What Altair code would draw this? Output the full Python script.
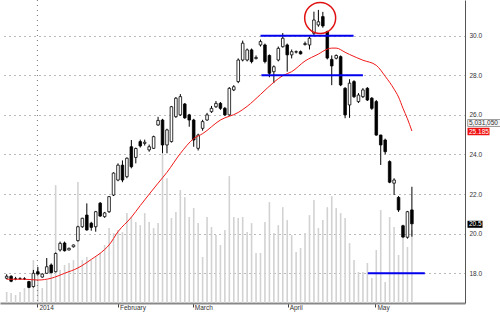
import altair as alt
import pandas as pd

# ---- candle data (index = trading day position) ----
opens = [17.75, 17.85, 17.72, 17.73, 17.72, 17.58, 17.33, 18.08, 17.81, 18.0,
         18.42, 18.08, 19.18, 19.53, 19.18, 19.34, 19.65, 20.35, 20.94, 20.53,
         20.35, 21.54, 20.86, 21.11, 21.95, 22.71, 23.46, 22.88, 24.39, 23.85,
         24.65, 24.56, 24.23, 24.31, 25.49, 25.74, 24.48, 24.65, 25.91, 26.0,
         26.55, 26.0, 25.74, 24.31, 25.32, 25.74, 26.16, 26.41, 26.58, 26.33,
         26.0, 27.26, 27.68, 28.77, 28.77, 29.28, 28.84, 29.53, 29.53, 29.0,
         28.18, 28.77, 29.44, 29.53, 29.03, 29.17, 29.19, 29.55, 29.53, 30.12,
         30.54, 30.96, 30.2, 28.8, 28.86, 28.94, 27.34, 26.5, 27.68, 26.67,
         26.92, 27.34, 26.84, 26.67, 24.98, 24.73, 23.64, 22.55, 21.83, 20.4,
         19.82, 21.2]
closes = [17.85, 17.6, 17.72, 17.73, 17.72, 17.29, 18.0, 17.96, 17.96, 18.33,
          18.03, 19.0, 19.51, 19.14, 19.26, 19.43, 20.35, 20.78, 20.19, 20.32,
          21.11, 20.89, 21.05, 21.87, 23.06, 23.46, 22.71, 23.81, 23.38, 24.3,
          24.43, 24.62, 24.39, 24.9, 25.72, 24.48, 25.24, 26.41, 26.84, 26.92,
          25.85, 25.74, 24.73, 24.98, 25.66, 26.0, 26.33, 26.58, 26.33, 26.0,
          27.34, 27.42, 28.77, 29.62, 29.28, 28.69, 28.9, 29.7, 28.69, 28.1,
          28.43, 29.36, 29.87, 29.03, 29.19, 29.19, 29.08, 29.6, 29.87, 30.79,
          30.7, 30.49, 28.87, 28.47, 29.0, 27.51, 26.0, 27.6, 26.92, 27.0,
          27.26, 26.75, 26.33, 24.98, 24.48, 24.14, 22.6, 22.71, 21.2, 19.83,
          21.11, 20.5]
highs = [17.95, 17.9, 17.82, 17.8, 17.8, 17.62, 18.17, 18.33, 18.0, 18.77,
         18.5, 19.05, 19.6, 19.6, 19.3, 19.45, 20.4, 20.8, 21.53, 20.6,
         21.15, 21.6, 21.1, 21.9, 23.1, 23.55, 23.7, 23.85, 24.73, 24.35,
         24.75, 24.75, 24.5, 24.95, 25.9, 25.8, 25.3, 26.45, 26.9, 27.05,
         26.6, 26.05, 25.8, 25.05, 25.75, 26.1, 26.45, 26.7, 26.65, 26.4,
         27.4, 27.5, 28.85, 29.75, 29.35, 29.35, 29.0, 29.8, 29.6, 29.05,
         28.5, 29.45, 30.13, 29.6, 29.3, 29.25, 29.25, 29.7, 29.95, 31.21,
         31.3, 31.2, 30.25, 29.0, 29.05, 29.0, 27.4, 27.8, 27.75, 27.1,
         27.35, 27.4, 26.9, 26.75, 25.0, 24.8, 23.7, 22.8, 21.9, 20.45,
         21.15, 22.37]
lows = [17.7, 17.55, 17.65, 17.68, 17.66, 17.25, 17.28, 17.94, 17.78, 17.98,
        18.0, 18.05, 19.1, 19.1, 19.15, 19.3, 19.6, 20.3, 20.15, 20.15,
        20.1, 20.85, 20.8, 21.05, 21.9, 22.65, 22.6, 22.8, 23.3, 23.55,
        24.35, 24.45, 24.14, 24.28, 25.45, 24.06, 24.06, 24.6, 25.85, 25.95,
        25.8, 25.4, 24.39, 24.2, 25.2, 25.7, 26.1, 26.35, 26.25, 25.95,
        25.95, 27.2, 27.6, 28.7, 28.7, 28.6, 28.8, 29.45, 28.6, 27.9,
        27.6, 28.7, 29.4, 28.18, 28.85, 29.1, 29.05, 29.5, 29.3, 30.0,
        30.45, 30.4, 28.8, 27.5, 28.8, 27.45, 25.83, 25.85, 26.85, 26.6,
        26.85, 26.7, 26.25, 24.95, 23.47, 24.0, 22.55, 21.95, 21.1, 19.8,
        19.75, 19.85]
# volume in millions of shares
volumes = [0.76, 0.69, 0.55, 0.76, 1.03, 1.24, 2.96, 2.41, 1.03, 1.58,
           2.27, 8.13, 2.27, 2.62, 2.76, 2.96, 8.34, 2.96, 3.17, 2.96,
           3.17, 3.45, 4.0, 5.17, 4.82, 5.03, 4.89, 6.2, 5.93, 5.58,
           5.37, 6.2, 5.58, 5.17, 5.51, 10.3, 8.6, 5.86, 6.27, 7.79,
           7.3, 5.93, 6.55, 5.51, 3.17, 5.93, 5.24, 4.69, 4.0, 5.03,
           8.75, 5.93, 5.86, 5.93, 4.89, 5.51, 3.45, 3.45, 5.58, 6.96,
           4.82, 5.37, 6.61, 5.72, 4.69, 3.51, 3.79, 4.82, 6.06, 7.1,
           5.17, 5.72, 6.61, 7.37, 6.55, 6.2, 5.86, 4.13, 2.96, 2.14,
           2.14, 2.76, 1.72, 3.65, 6.41, 1.45, 5.93, 5.24, 3.31, 4.55,
           3.86, 5.03]

# moving average
ma_idx = [0, 4, 7, 10, 13, 16, 19, 22, 23, 25, 28, 30, 34, 36, 39, 42, 44, 48,
          52, 54, 57, 60, 62, 64, 67, 70, 72, 73, 74, 76, 77, 80, 83, 85, 87,
          88, 89, 90, 91]
ma_val = [17.70, 17.70, 17.66, 17.75, 18.0, 18.27, 18.7, 19.2, 19.43, 20.1,
          20.83, 21.42, 22.55, 23.1, 24.05, 24.8, 25.05, 25.74, 26.12, 26.43,
          27.03, 27.65, 27.98, 28.18, 28.72, 29.07, 29.32, 29.37, 29.37, 29.16,
          29.05, 28.76, 28.5, 27.95, 27.3, 26.9, 26.33, 25.8, 25.185]

# annotation levels (blue lines)
lvl_price = [30.0, 28.0, 18.0]
lvl_from = [57.0, 57.2, 81.1]
lvl_to = [77.9, 80.0, 93.9]

# red circle annotation
circ_idx = [70.4]
circ_price = [30.89]

# axis ticks
tick_idx = [6.9, 25.0, 41.8, 63.1, 82.8]
tick_lab = ["2014", "February", "March", "April", "May"]
year_idx = [6.9]
price_ticks = [18, 20, 22, 24, 26, 28, 30]

# right-hand value tags
tag_vol_text = ["5,031,050"]
tag_ma_text = ["25.185"]
tag_close_text = ["20.5"]
tag_ma_price = [25.185]
tag_close_price = [20.5]

n = len(opens)
candles = pd.DataFrame({"idx": list(range(n)), "open": opens, "high": highs,
                        "low": lows, "close": closes})
vol_df = pd.DataFrame({"idx": list(range(n)), "vol": volumes})
ma_df = pd.DataFrame({"idx": ma_idx, "price": ma_val})
lvl_df = pd.DataFrame({"x1": lvl_from, "x2": lvl_to, "price": lvl_price})
circ_df = pd.DataFrame({"idx": circ_idx, "price": circ_price})
year_df = pd.DataFrame({"idx": year_idx})
vol_tag = pd.DataFrame({"price": tag_ma_price, "t": tag_vol_text})
ma_tag = pd.DataFrame({"price": tag_ma_price, "t": tag_ma_text})
close_tag = pd.DataFrame({"price": tag_close_price, "t": tag_close_text})

FONT = "Liberation Sans"
xs = alt.Scale(domain=[-0.374, 101.8], nice=False, zero=False)
ys = alt.Scale(domain=[16.5, 31.8], nice=False, zero=False)

expr = "''"
for v, lab in reversed(list(zip(tick_idx, tick_lab))):
    expr = f"abs(datum.value - {v}) < 0.5 ? '{lab}' : " + expr

x_axis = alt.Axis(values=tick_idx, labelExpr=expr, title=None, grid=False,
                  tickSize=4, tickColor="#444", tickWidth=1,
                  labelAlign="left", labelBaseline="top", labelPadding=-3,
                  labelOffset=1.5, labelFlush=False, labelOverlap=False,
                  domainColor="#888", domainWidth=2, labelFontSize=6.5,
                  labelColor="#333", labelFont=FONT)
y_axis = alt.Axis(orient="right", values=price_ticks, format=".1f", title=None,
                  grid=True, gridDash=[1, 4], gridColor="#777", gridWidth=1,
                  ticks=False, labelPadding=4, labelFontSize=6.5,
                  labelColor="#333", labelFont=FONT, domainColor="#555",
                  domainWidth=1, labelFlush=False)

X = alt.X("idx:Q", scale=xs, axis=x_axis)

vol_chart = alt.Chart(vol_df).mark_bar(size=1.6, color="#d2d2d2").encode(
    x=X,
    y=alt.Y("vol:Q", scale=alt.Scale(domain=[0, 20.9], nice=False), axis=None),
)

year_rule = alt.Chart(year_df).mark_rule(color="#777", strokeDash=[1, 4]).encode(x=X)

wicks = alt.Chart(candles).mark_rule(color="black", strokeWidth=1).encode(
    x=X, y=alt.Y("low:Q", scale=ys, axis=y_axis), y2="high:Q")

bodies = alt.Chart(candles).mark_bar(size=2.6, stroke="black", strokeWidth=0.8).encode(
    x=X, y=alt.Y("open:Q", scale=ys, axis=y_axis), y2="close:Q",
    fill=alt.condition("datum.close >= datum.open", alt.value("white"), alt.value("black")))

ma_line = alt.Chart(ma_df).mark_line(color="#f01818", strokeWidth=1, interpolate="monotone").encode(
    x=X, y=alt.Y("price:Q", scale=ys, axis=y_axis))

levels = alt.Chart(lvl_df).mark_rule(color="#0000ee", strokeWidth=2).encode(
    x=alt.X("x1:Q", scale=xs, axis=x_axis), x2="x2:Q",
    y=alt.Y("price:Q", scale=ys, axis=y_axis))

circle = alt.Chart(circ_df).mark_point(shape="circle", size=961, filled=False,
                                       color="#e01010", strokeWidth=1.5, opacity=1).encode(
    x=X, y=alt.Y("price:Q", scale=ys, axis=y_axis))

Yp = alt.Y("price:Q", scale=ys, axis=y_axis)

vol_box = alt.Chart(vol_tag).mark_point(
    shape="M-1,-0.206L1,-0.206L1,0.206L-1,0.206Z", size=1156, filled=True,
    fill="#f4f4f4", stroke="#888", strokeWidth=0.8, opacity=1, yOffset=-8
).encode(x=alt.value(484.7), y=Yp)
vol_txt = alt.Chart(vol_tag).mark_text(
    align="left", baseline="middle", fontSize=6.5, font=FONT, color="#333", yOffset=-8
).encode(x=alt.value(469), y=Yp, text="t:N")

ma_box = alt.Chart(ma_tag).mark_point(
    shape="M-1,-0.34L1,-0.34L1,0.34L-1,0.34Z", size=484, filled=True,
    fill="#ee1111", opacity=1, yOffset=0.5
).encode(x=alt.value(478.5), y=Yp)
ma_txt = alt.Chart(ma_tag).mark_text(
    align="left", baseline="middle", fontSize=6.5, font=FONT, color="white", yOffset=0.5
).encode(x=alt.value(469), y=Yp, text="t:N")

cl_box = alt.Chart(close_tag).mark_point(
    shape="M-1,-0.467L1,-0.467L1,0.467L-1,0.467Z", size=225, filled=True,
    fill="black", opacity=1, yOffset=0.5
).encode(x=alt.value(475), y=Yp)
cl_txt = alt.Chart(close_tag).mark_text(
    align="left", baseline="middle", fontSize=6.5, font=FONT, color="white", yOffset=0.5
).encode(x=alt.value(469), y=Yp, text="t:N")

price = alt.layer(year_rule, wicks, bodies, ma_line, levels, circle,
                  vol_box, vol_txt, ma_box, ma_txt, cl_box, cl_txt)

chart = alt.layer(vol_chart, price).resolve_scale(y="independent").properties(
    width=465, height=303,
    autosize=alt.AutoSizeParams(type="none"),
    padding={"left": 0, "top": 0, "right": 35, "bottom": 9},
    background="white",
).configure_view(strokeWidth=0)

chart.save("out.html", embed_options={"renderer": "svg", "actions": False})
